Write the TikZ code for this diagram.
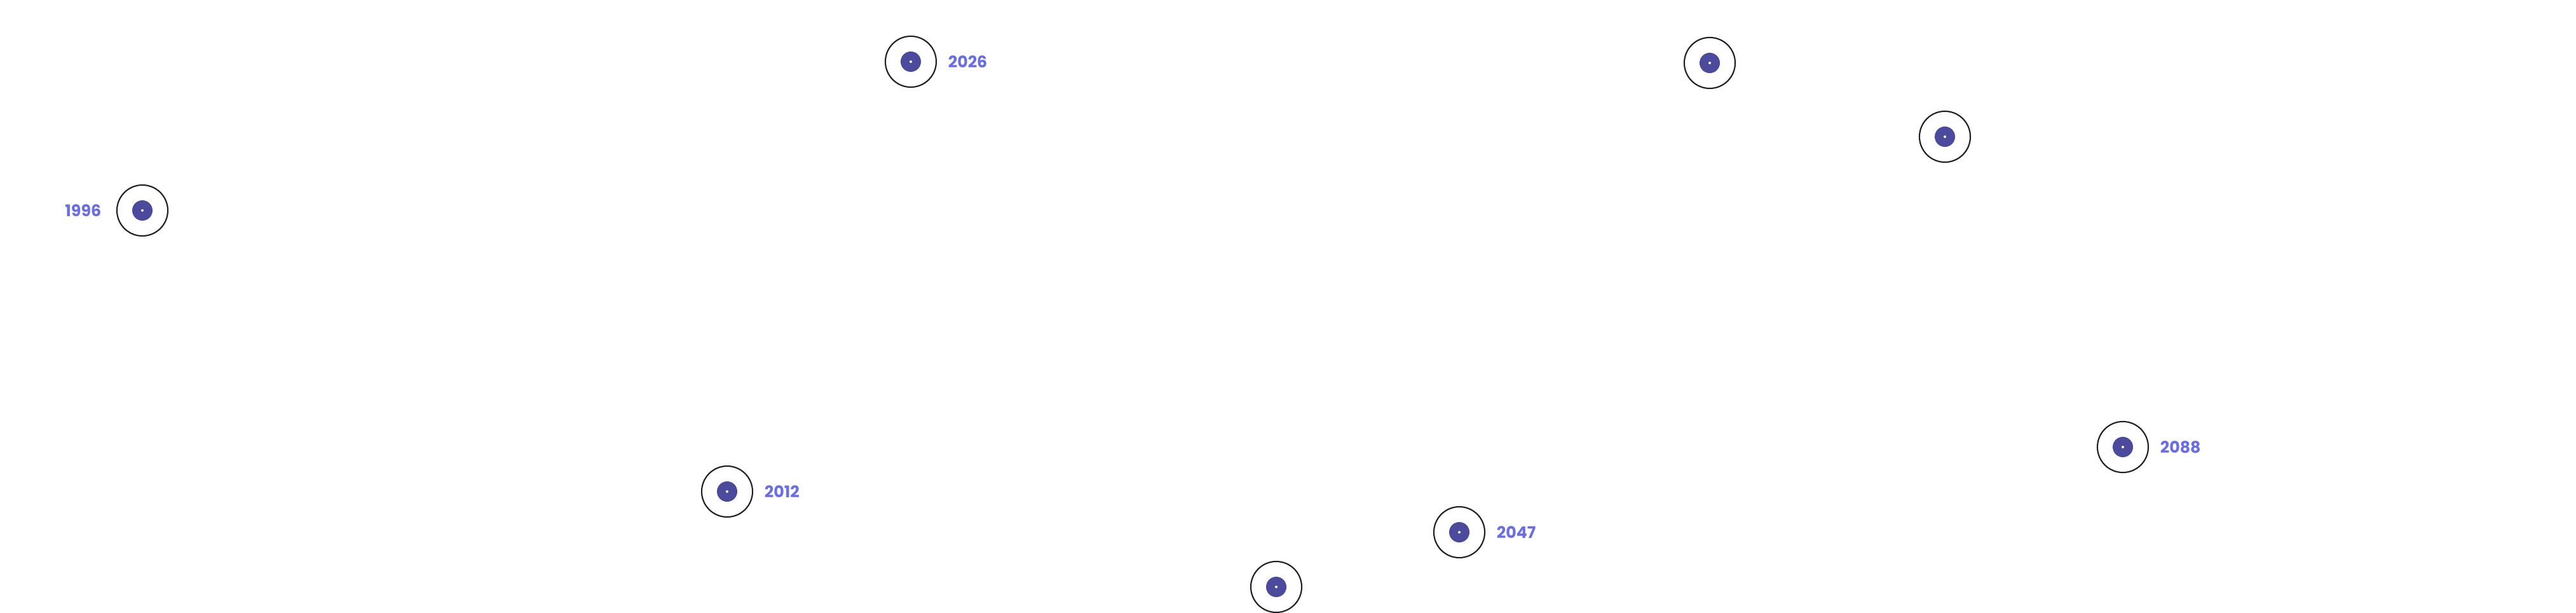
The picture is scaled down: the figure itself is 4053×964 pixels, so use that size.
\documentclass[tikz,border=0pt]{standalone}
\usepackage{fontspec}
\setmainfont{Poppins}
\usepackage{xcolor}
\usetikzlibrary{positioning}
\definecolor{ringline}{HTML}{1E1E24}
\definecolor{coreblue}{HTML}{4B4A9C}
\definecolor{yearblue}{HTML}{6A6EE2}

\begin{document}
\begin{tikzpicture}[x=0.01cm,y=-0.01cm,
  ring/.style={circle,draw=ringline,line width=0.6pt,minimum size=0.8cm,inner sep=0pt},
  core/.style={circle,fill=coreblue,minimum size=0.32cm,inner sep=0pt},
  hole/.style={circle,fill=white,minimum size=0.04cm,inner sep=0pt},
  yearlabel/.style={font=\bfseries\fontsize{7.2}{8}\selectfont,text=yearblue,inner sep=0pt}]
  \useasboundingbox (0,0) rectangle (4053,964);
  \foreach \n/\x/\y in {1996/224/331,2026/1433/97,a/2690/99,b/3060/215,
                        2012/1144/773,2047/2296/837,c/2008/923,2088/3340/703} {
    \node[ring] (m\n) at (\x,\y) {};
    \node[core] (c\n) at (m\n) {};
    \node[hole] (h\n) at (m\n) {};
  }
  \node[yearlabel,left=0.23cm of m1996] (t1996) {1996};
  \node[yearlabel,right=0.17cm of m2026] (t2026) {2026};
  \node[yearlabel,right=0.17cm of m2012] (t2012) {2012};
  \node[yearlabel,right=0.17cm of m2047] (t2047) {2047};
  \node[yearlabel,right=0.17cm of m2088] (t2088) {2088};
\end{tikzpicture}
\end{document}
